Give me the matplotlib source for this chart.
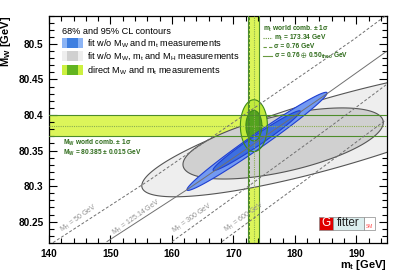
import numpy as np
import matplotlib.pyplot as plt
from matplotlib.patches import Rectangle
from matplotlib.lines import Line2D
from matplotlib.transforms import Affine2D
from matplotlib.ticker import MultipleLocator, FuncFormatter

plt.rcParams['font.family'] = ['Liberation Sans', 'DejaVu Sans']
plt.rcParams['mathtext.fontset'] = 'custom'
plt.rcParams['mathtext.rm'] = 'Liberation Sans'
plt.rcParams['mathtext.default'] = 'regular'

# direct measurements (world combinations)
mw_comb, mw_err = 80.385, 0.015
mt_comb, mt_err, mt_theo = 173.34, 0.76, 0.50

# contours: centre mt, centre MW, half range mt, half range MW, correlation
gray_95 = [186.5, 80.376, 31.4, 0.091, 0.83]
gray_68 = [178.1, 80.360, 16.3, 0.050, 0.59]
blue_95 = [173.85, 80.363, 11.4, 0.069, 0.984]
blue_68 = [173.8, 80.364, 7.1, 0.042, 0.978]
green_95 = [173.34, 80.385, 2.2, 0.0365, 0.0]
green_68 = [173.34, 80.385, 1.3, 0.0215, 0.0]

# SM prediction for fixed MH
mh_labels = ['50', '125.14', '300', '600']
mh_mt = [[140.65, 156.44, 189.47, 194.68],
         [149.44, 162.46, 185.24, 194.84],
         [160.02, 169.45, 185.73, 194.84],
         [168.15, 180.85, 194.84]]
mh_mw = [[80.2205, 80.309, 80.5056, 80.539],
         [80.222, 80.295, 80.430, 80.489],
         [80.222, 80.281, 80.3834, 80.4424],
         [80.222, 80.3028, 80.3933]]
mh_styles = ['--', '-', '--', '--']
mh_label_pos = [(144.9, 80.254), (154.2, 80.2565), (163.4, 80.2552), (171.8, 80.2566)]


def contour(p):
    cx, cy, dx, dy, rho = p
    t = np.linspace(0, 2 * np.pi, 400)
    return cx + dx * np.cos(t), cy + dy * np.cos(t - np.arccos(rho))


fig = plt.figure(figsize=(4.07, 2.76), dpi=100)
ax = fig.add_axes([49 / 407, 1 - 243 / 276, 338 / 407, 227.5 / 276])
# reference pixel coordinates for decorations
pxt = Affine2D().scale(1 / 407, -1 / 276).translate(0, 1) + fig.transFigure

band_fill = '#dcf55a'
band_line = '#4d8c2a'
dark_green = '#2e6b1a'

# bands
mt_tot = np.hypot(mt_err, mt_theo)
ax.axhspan(mw_comb - mw_err, mw_comb + mw_err, color=band_fill, lw=0, zorder=1)
ax.axvspan(mt_comb - mt_tot, mt_comb + mt_tot, color=band_fill, lw=0, zorder=1)

# contours
x, y = contour(gray_95)
ax.fill(x, y, fc='#eeeeee', ec='#555555', lw=0.8, zorder=2)
x, y = contour(gray_68)
ax.fill(x, y, fc='#d0d0d0', ec='#555555', lw=0.8, zorder=2.1)
x, y = contour(green_95)
ax.fill(x, y, fc='#c2ec3c', ec='none', zorder=2.2)
x, y = contour(green_68)
ax.fill(x, y, fc='#52a21e', ec='none', zorder=2.3)
x, y = contour(blue_95)
ax.fill(x, y, fc='#7299f2', ec='#1f3fd0', lw=0.8, zorder=2.4)
x, y = contour(blue_68)
ax.fill(x, y, fc='#3d6fe0', ec='#1f3fd0', lw=0.8, zorder=2.5)
for p in (green_95, green_68):
    x, y = contour(p)
    ax.plot(x, y, color='#3f8a1a', lw=0.8, zorder=2.6)

# band lines
for s in (-1, 1):
    ax.axhline(mw_comb + s * mw_err, color=band_line, lw=0.8, zorder=3)
    ax.axvline(mt_comb + s * mt_tot, color=band_line, lw=0.8, zorder=3)
    ax.axvline(mt_comb + s * mt_err, color=band_line, lw=0.7, ls=(0, (3, 1.5)), zorder=3)
ax.axhline(mw_comb, color='#8aae50', lw=0.8, ls=(0, (1, 1)), zorder=3)
ax.axvline(mt_comb, color='#8aae50', lw=0.8, ls=(0, (1, 1)), zorder=3)

# MH lines
for lab, xs, ys, st, pos in zip(mh_labels, mh_mt, mh_mw, mh_styles, mh_label_pos):
    ax.plot(xs, ys, color='#707070', lw=0.7, ls=st if st == '-' else (0, (3, 2)), zorder=3.5)
    ax.text(pos[0], pos[1], 'M$_H$ = %s GeV' % lab, color='#909090', fontsize=5,
            rotation=35, rotation_mode='anchor', ha='center', va='center', zorder=3.6)

ax.set_xlim(140, 195)
ax.set_ylim(80.22, 80.54)
ax.xaxis.set_major_locator(MultipleLocator(10))
ax.xaxis.set_minor_locator(MultipleLocator(2))
ax.yaxis.set_major_locator(MultipleLocator(0.05))
ax.yaxis.set_minor_locator(MultipleLocator(0.01))
ax.yaxis.set_major_formatter(FuncFormatter(lambda v, p: '%g' % round(v, 3)))
ax.tick_params(which='both', direction='in', top=True, right=True, width=0.8)
ax.tick_params(which='major', length=6, labelsize=7.2)
ax.tick_params(which='minor', length=3.3)
ax.tick_params(axis='x', pad=4)
ax.tick_params(axis='y', pad=4)
for lbl in ax.get_xticklabels() + ax.get_yticklabels():
    lbl.set_fontweight('bold')
for sp in ax.spines.values():
    sp.set_linewidth(0.9)

ax.set_xlabel('m$_t$ [GeV]', fontsize=8, fontweight='bold', loc='right')
ax.xaxis.set_label_coords(1.0, -0.066)
ax.set_ylabel('M$_W$ [GeV]', fontsize=8, fontweight='bold', loc='top')
ax.yaxis.set_label_coords(-0.106, 1.0)

# legend
fig.text(62, 31, '68% and 95% CL contours', transform=pxt, fontsize=6.6, va='center')
legend = [('fit w/o M$_W$ and m$_t$ measurements', '#8cb4f5', '#3f7fe0', 38),
          ('fit w/o M$_W$, m$_t$ and M$_H$ measurements', '#eeeeee', '#d0d0d0', 51),
          ('direct M$_W$ and m$_t$ measurements', '#ccf040', '#62b420', 65)]
for text, c_out, c_in, y0 in legend:
    fig.patches.append(Rectangle((62, y0 + 10), 21, -10, transform=pxt, fc=c_out, ec='none'))
    fig.patches.append(Rectangle((67, y0 + 10), 11, -10, transform=pxt, fc=c_in, ec='none'))
    fig.text(87, y0 + 5.5, text, transform=pxt, fontsize=6.6, va='center')

# direct measurement text
fig.text(63, 143, 'M$_W$ world comb. ± 1σ', transform=pxt, fontsize=4.8,
         fontweight='bold', color=dark_green, va='center')
fig.text(63, 152.5, 'M$_W$ = 80.385 ± 0.015 GeV', transform=pxt, fontsize=4.8,
         fontweight='bold', color=dark_green, va='center')
fig.text(263, 29, 'm$_t$ world comb. ± 1σ', transform=pxt, fontsize=4.8,
         fontweight='bold', color=dark_green, va='center')
rows = [(38, (0, (1, 1)), 'm$_t$ = 173.34 GeV'),
        (46.5, (0, (3, 2)), 'σ = 0.76 GeV'),
        (55.5, '-', 'σ = 0.76 $\\oplus$ 0.50$_{theo}$ GeV')]
for yy, st, text in rows:
    fig.lines.append(Line2D([263, 272], [yy, yy], transform=pxt, color='#6a9a40', lw=0.8, ls=st))
    fig.text(274, yy, text, transform=pxt, fontsize=4.8, fontweight='bold',
             color=dark_green, va='center')

# Gfitter logo
fig.patches.append(Rectangle((319, 230), 13.5, -13.3, transform=pxt, fc='#e00000', ec='#888888', lw=0.5))
fig.patches.append(Rectangle((332.5, 230), 31, -13.3, transform=pxt, fc='#dcefef', ec='#888888', lw=0.5))
fig.patches.append(Rectangle((363.5, 230), 11, -13.3, transform=pxt, fc='white', ec='#888888', lw=0.5))
fig.text(325.7, 223.5, 'G', transform=pxt, fontsize=8.5, color='white', ha='center', va='center')
fig.text(348, 223.5, 'fitter', transform=pxt, fontsize=8.5, color='#222222', ha='center', va='center')
fig.text(369, 226, 'SM', transform=pxt, fontsize=3.5, color='#ff5050', ha='center', va='center')

fig.savefig('out.png', dpi=100)
